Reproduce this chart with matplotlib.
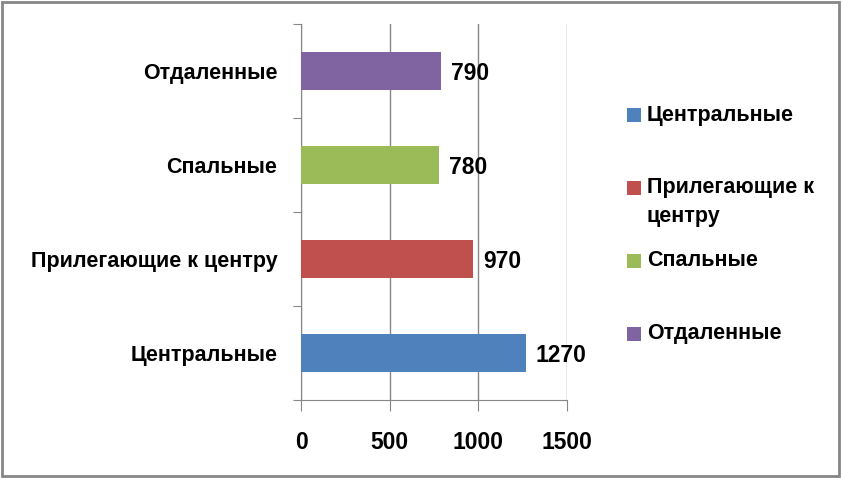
import matplotlib.pyplot as plt
from matplotlib.patches import Rectangle

categories = ["Центральные", "Прилегающие к центру", "Спальные", "Отдаленные"]
values = [1270, 970, 780, 790]
colors = ["#4F81BD", "#C0504D", "#9BBB59", "#8064A2"]
legend_labels = ["Центральные", "Прилегающие к\nцентру", "Спальные", "Отдаленные"]
xticks = [0, 500, 1000, 1500]

plt.rcParams["font.family"] = ["Liberation Sans", "DejaVu Sans"]
plt.rcParams["font.weight"] = "bold"
W, H = 842, 478
FS = 15.5
FS_NUM = 16.5

fig = plt.figure(figsize=(W / 100, H / 100), dpi=100)
ax = fig.add_axes([301 / W, 1 - 400 / H, (567 - 301) / W, (400 - 24) / H])

ypos = range(len(categories))
ax.barh(ypos, values, height=0.4, color=colors, zorder=3)
for y, v in zip(ypos, values):
    ax.text(v + 55, y - 0.03, str(v), va="center", ha="left", fontsize=FS_NUM, fontweight="bold")

ax.set_xlim(0, 1500)
ax.set_ylim(-0.5, len(categories) - 0.5)
ax.set_xticks(xticks)
ax.set_xticklabels([str(t) for t in xticks], fontsize=FS_NUM, fontweight="bold")
ax.xaxis.grid(True, color="#868686", linewidth=1, zorder=0)
ax.set_yticks([i - 0.5 for i in range(len(categories) + 1)])
ax.set_yticklabels([])
ax.set_yticks(list(ypos), minor=True)
ax.set_yticklabels(categories, minor=True, fontsize=FS, fontweight="bold")
ax.tick_params(axis="y", which="minor", length=0, pad=17)
ax.tick_params(axis="y", which="major", length=6, color="#868686")
ax.tick_params(axis="x", length=8, color="#868686", pad=14)
for side in ["top", "right"]:
    ax.spines[side].set_visible(False)
for side in ["left", "bottom"]:
    ax.spines[side].set_color("#868686")

# legend drawn by hand: Excel keeps rows evenly spaced, square beside the first line
row_y = 115
for color, label in zip(colors, legend_labels):
    fig.patches.append(Rectangle((627 / W, 1 - (row_y + 7) / H), 14 / W, 14 / H,
                                 transform=fig.transFigure, facecolor=color, edgecolor="none"))
    for k, line in enumerate(label.split("\n")):
        fig.text(647 / W, 1 - (row_y + 28 * k) / H, line, va="center", ha="left",
                 fontsize=FS, fontweight="bold")
    row_y += 73

fig.patches.append(Rectangle((0.002, 0.004), 0.995, 0.992, transform=fig.transFigure,
                             fill=False, edgecolor="#868686", linewidth=2))

fig.savefig("out.png", dpi=100)
